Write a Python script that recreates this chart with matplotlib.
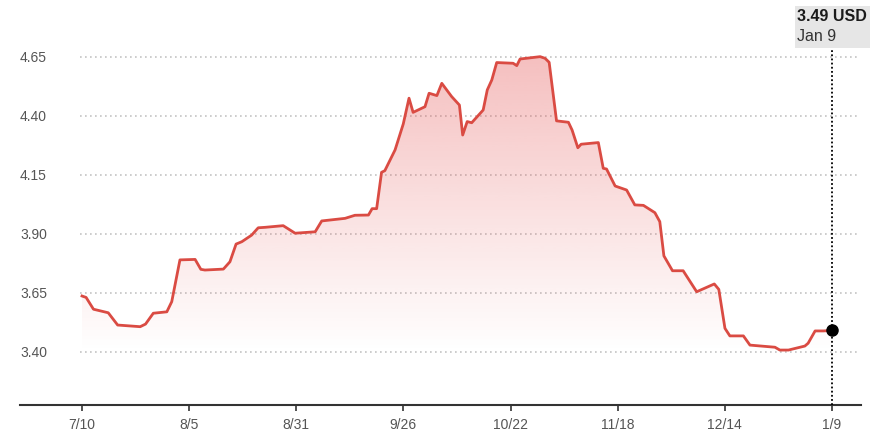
import matplotlib.pyplot as plt
import matplotlib.colors as mcolors
from matplotlib.patches import Polygon, Rectangle
import numpy as np

plt.rcParams['font.family'] = ['Liberation Sans', 'DejaVu Sans']

# days since 7/10, price in USD
days = [0, 1, 2.8, 6.4, 8.7, 14.2, 15.5, 17.4, 20.7, 21.9, 23.9, 27.6, 29.0, 30.0,
        34.5, 36.1, 37.6, 39.0, 41.4, 43.0, 44.7, 49.1, 52.0, 56.9, 58.5, 64.2,
        66.6, 69.9, 70.8, 71.9, 73.1, 73.9, 76.4, 78.4, 79.8, 80.8, 83.7, 84.7,
        86.6, 87.8, 90.2, 92.1, 92.9, 94.0, 95.1, 97.9, 98.9, 100.0, 101.2, 105.2,
        106.1, 106.9, 111.8, 113.0, 114.0, 115.8, 118.7, 119.6, 121.0, 121.8,
        126.0, 127.2, 128.0, 130.1, 132.9, 134.9, 137.0, 139.8, 141.0, 142.0,
        144.1, 146.7, 150.0, 154.3, 155.4, 156.9, 158.1, 161.4, 163.0, 169.1,
        170.3, 172.4, 176.4, 177.2, 178.9, 180.9, 183]
prices = [3.636, 3.630, 3.580, 3.565, 3.513, 3.506, 3.517, 3.563, 3.569, 3.612,
          3.789, 3.791, 3.749, 3.746, 3.750, 3.781, 3.856, 3.866, 3.894, 3.925,
          3.927, 3.934, 3.902, 3.908, 3.954, 3.965, 3.978, 3.979, 4.006, 4.006,
          4.160, 4.167, 4.255, 4.365, 4.474, 4.414, 4.438, 4.495, 4.485, 4.537,
          4.481, 4.445, 4.318, 4.375, 4.370, 4.424, 4.509, 4.551, 4.625, 4.622,
          4.612, 4.640, 4.650, 4.643, 4.626, 4.378, 4.372, 4.339, 4.264, 4.279,
          4.286, 4.177, 4.174, 4.102, 4.085, 4.022, 4.020, 3.989, 3.951, 3.806,
          3.743, 3.743, 3.654, 3.687, 3.664, 3.499, 3.467, 3.467, 3.428, 3.419,
          3.407, 3.407, 3.424, 3.436, 3.488, 3.488, 3.49]

yticks = [3.40, 3.65, 3.90, 4.15, 4.40, 4.65]
xtick_labels = ['7/10', '8/5', '8/31', '9/26', '10/22', '11/18', '12/14', '1/9']
last_price = '3.49 USD'
last_date = 'Jan 9'

line_color = '#da4b43'
ymin, ymax = 3.174, 4.89

fig = plt.figure(figsize=(8.75, 4.30), dpi=100)
ax = fig.add_axes([0.023, 0.058, 0.961, 0.942])

# dotted grid
ax.hlines(yticks, -0.5, 189.5, colors='#c4c4c4', linewidth=1.2,
          linestyles=(0, (1, 2)), zorder=0)

# gradient fill under the line
verts = list(zip(days, prices)) + [(days[-1], ymin), (days[0], ymin)]
clip = Polygon(verts, closed=True, facecolor='none', edgecolor='none')
ax.add_patch(clip)
grad = np.zeros((256, 1, 4))
grad[:, :, :3] = mcolors.to_rgb('#e65a5a')
grad[:, 0, 3] = np.linspace(0.40, 0.0, 256)
im = ax.imshow(grad, extent=[days[0], days[-1], 3.40, 4.70], origin='upper',
               aspect='auto', zorder=1, interpolation='bilinear')
im.set_clip_path(clip)

ax.plot(days, prices, color=line_color, linewidth=2.0, zorder=3,
        solid_joinstyle='round')

# marker line for last point
ax.plot([days[-1], days[-1]], [ymin, 4.687], color='black', linewidth=1.3,
        linestyle=(0, (1, 1.3)), zorder=4, clip_on=False)
ax.scatter([days[-1]], [prices[-1]], s=64, color='black', zorder=5)

# tooltip box
ax.add_patch(Rectangle((174.0, 4.687), 18.3, 0.178, facecolor='#e6e6e6',
                       edgecolor='none', zorder=5, clip_on=False))
ax.text(174.6, 4.822, last_price, fontsize=11.5, fontweight='bold',
        color='#1a1a1a', va='center', ha='left', zorder=6)
ax.text(174.6, 4.737, last_date, fontsize=11.5, color='#333333',
        va='center', ha='left', zorder=6)

ax.set_xlim(-15.1, 190.1)
ax.set_ylim(ymin, ymax)

ax.set_xticks(np.linspace(0, days[-1], len(xtick_labels)))
ax.set_xticklabels(xtick_labels)
ax.set_yticks(yticks)
ax.set_yticklabels([f'{v:.2f}' for v in yticks])
for lab in ax.get_yticklabels():
    lab.set_horizontalalignment('left')

ax.tick_params(axis='x', length=4, width=1.2, color='#333333', labelcolor='#555555',
               labelsize=10, pad=5)
ax.tick_params(axis='y', length=0, pad=0, labelcolor='#555555', labelsize=10)

for s in ['top', 'right', 'left']:
    ax.spines[s].set_visible(False)
ax.spines['bottom'].set_color('#333333')
ax.spines['bottom'].set_linewidth(1.5)
ax.patch.set_alpha(0)

fig.savefig('out.png', dpi=100)
